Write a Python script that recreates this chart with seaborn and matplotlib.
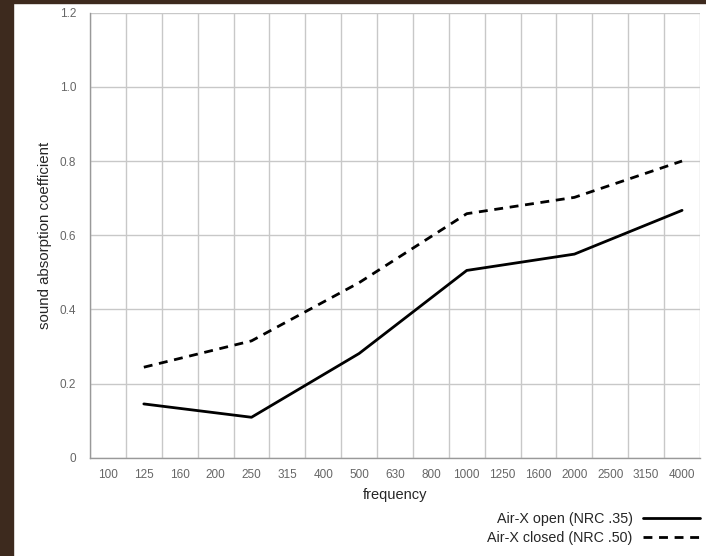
import numpy as np
import pandas as pd
import matplotlib
matplotlib.use('Agg')
import matplotlib.pyplot as plt
import seaborn as sns
from matplotlib.patches import Rectangle
from matplotlib.lines import Line2D

# frequency bands shown on the x axis
bands = ['100', '125', '160', '200', '250', '315', '400', '500', '630', '800',
         '1000', '1250', '1600', '2000', '2500', '3150', '4000']
# measured bands and coefficients
measured = ['125', '250', '500', '1000', '2000', '4000']
air_open = [0.145, 0.109, 0.281, 0.505, 0.549, 0.667]
air_closed = [0.244, 0.315, 0.472, 0.658, 0.702, 0.800]
yticks = [0, 0.2, 0.4, 0.6, 0.8, 1.0, 1.2]
ytick_labels = ['0', '0.2', '0.4', '0.6', '0.8', '1.0', '1.2']

df = pd.DataFrame({'band': measured, 'open': air_open, 'closed': air_closed})
df['pos'] = [bands.index(b) for b in df['band']]

sns.set_style('white')
plt.rcParams['font.family'] = ['Liberation Sans', 'DejaVu Sans']

fig = plt.figure(figsize=(7.06, 5.56), dpi=100)
fig.patch.set_facecolor('white')
# dark brown page border (left and top)
fig.patches.append(Rectangle((0, 0), 13 / 706, 1, transform=fig.transFigure,
                             color='#3d2a1e', zorder=0))
fig.patches.append(Rectangle((0, 1 - 3 / 556), 1, 3 / 556, transform=fig.transFigure,
                             color='#3d2a1e', zorder=0))

ax = fig.add_axes([90 / 706, 1 - 457.7 / 556, 610 / 706, 445 / 556])

dash = (0, (3.2, 2.4))
sns.lineplot(data=df, x='pos', y='open', ax=ax, color='black', linewidth=2.0)
sns.lineplot(data=df, x='pos', y='closed', ax=ax, color='black', linewidth=2.0,
             linestyle=dash)

n = len(bands)
ax.set_xlim(-0.5, n - 0.5)
ax.set_ylim(0, 1.2)

# grid lines on band boundaries, labels in the middle of each band
ax.set_xticks(np.arange(-0.5, n, 1.0))
ax.set_xticklabels([])
ax.set_xticks(np.arange(n), minor=True)
ax.set_xticklabels(bands, minor=True)
ax.tick_params(axis='x', which='major', length=4, color='#999999', direction='out')
ax.tick_params(axis='x', which='minor', length=0, labelsize=8.5, labelcolor='#666666', pad=8)

ax.set_yticks(yticks)
ax.set_yticklabels(ytick_labels)
ax.tick_params(axis='y', length=4, color='#999999', labelsize=8.5, labelcolor='#666666', pad=6)

ax.grid(True, which='major', color='#c8c8c8', linewidth=1.0)
ax.set_axisbelow(True)

for side in ['top', 'right']:
    ax.spines[side].set_visible(False)
for side in ['left', 'bottom']:
    ax.spines[side].set_color('#999999')
    ax.spines[side].set_linewidth(1.0)

ax.set_xlabel('frequency', fontsize=10.5)
ax.xaxis.set_label_coords(0.5, -30 / 445)
ax.set_ylabel('sound absorption coefficient', fontsize=10.8)
ax.yaxis.set_label_coords(-38 / 610, 0.5)

handles = [Line2D([], [], color='black', linewidth=2.0),
           Line2D([], [], color='black', linewidth=2.0, linestyle=dash)]
fig.legend(handles, ['Air-X open (NRC .35)', 'Air-X closed (NRC .50)'],
           loc='upper right', bbox_to_anchor=(700 / 706, 1 - 512 / 556),
           frameon=False, fontsize=10.3, markerfirst=False, handlelength=4.0,
           handletextpad=0.7, labelspacing=0.35, borderaxespad=0, borderpad=0)

fig.savefig('out.png', dpi=100)
